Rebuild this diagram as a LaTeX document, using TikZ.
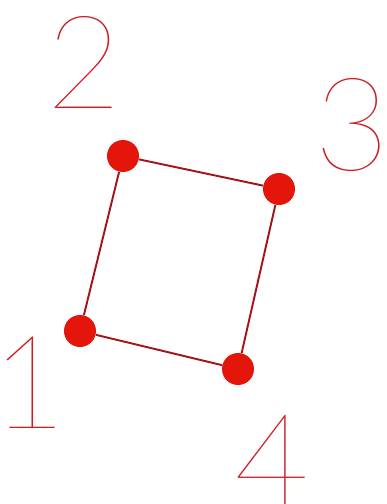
\documentclass[tikz,border=0pt]{standalone}
\usepackage{fontspec}
\newfontfamily\digitfont{Lato Thin}
\usetikzlibrary{positioning}

\definecolor{dotred}{RGB}{228,22,12}
\definecolor{edgered}{RGB}{165,20,25}
\definecolor{labelred}{RGB}{205,30,35}

\begin{document}
\begin{tikzpicture}[x=0.02cm, y=0.02cm,
    vertex/.style={circle, fill=dotred, inner sep=0pt, minimum size=0.64cm},
    edge/.style={edgered, line width=1.1pt},
    numlabel/.style={labelred, inner sep=0pt, font=\digitfont\fontsize{74}{74}\selectfont}]

    \useasboundingbox (0,0) rectangle (386,504);

    % Corner points
    \node[vertex] (p1) at (80,173) {};
    \node[vertex] (p2) at (123,348) {};
    \node[vertex] (p3) at (279,315) {};
    \node[vertex] (p4) at (238,135) {};

    % Sides of the quadrilateral
    \draw[edge] (p1) -- (p2);
    \draw[edge] (p2) -- (p3);
    \draw[edge] (p3) -- (p4);
    \draw[edge] (p4) -- (p1);

    % Numbers
    \node[numlabel] (n1) at (29,121) {1};
    \node[numlabel] (n2) at (84,442) {2};
    \node[numlabel] (n3) at (352,379) {3};
    \node[numlabel] (n4) at (272,43) {4};

\end{tikzpicture}
\end{document}
